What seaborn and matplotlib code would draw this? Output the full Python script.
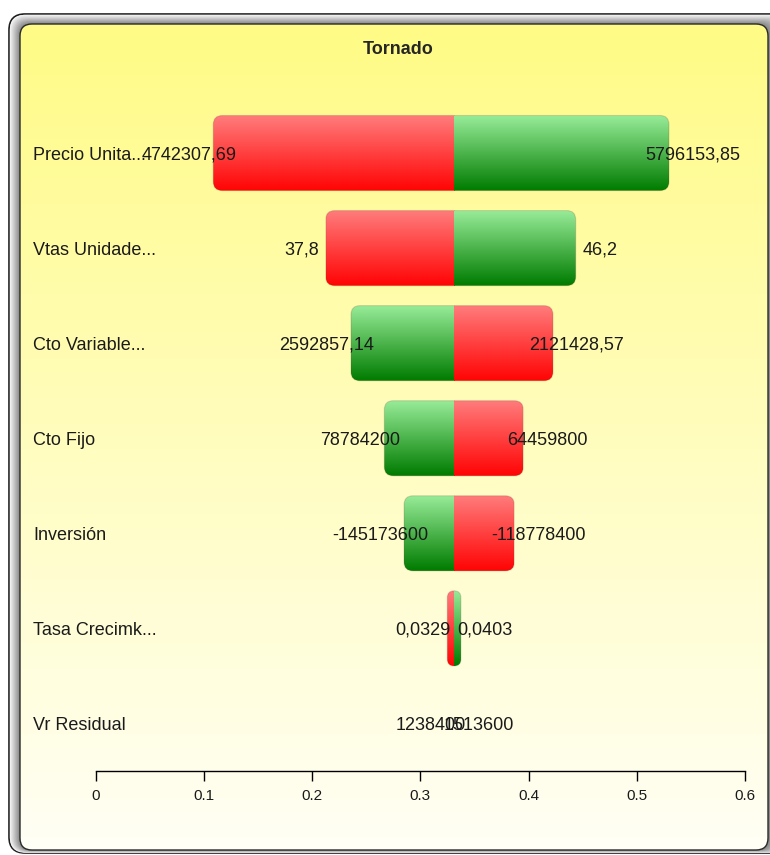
import numpy as np
import pandas as pd
import seaborn as sns
import matplotlib.pyplot as plt
from matplotlib.patches import FancyBboxPatch

# Tornado data
categories = ["Precio Unita...", "Vtas Unidade...", "Cto Variable...", "Cto Fijo",
              "Inversión", "Tasa Crecimk...", "Vr Residual"]
base_value = 0.3315
low_ends = [0.1088, 0.2127, 0.2360, 0.2668, 0.2850, 0.3250, 0.3315]
high_ends = [0.5298, 0.4436, 0.4226, 0.3952, 0.3869, 0.3376, 0.3315]
low_labels = ["4742307,69", "37,8", "2592857,14", "78784200", "-145173600", "0,0329", "1238400"]
high_labels = ["5796153,85", "46,2", "2121428,57", "64459800", "-118778400", "0,0403", "1513600"]
low_colors = ["red", "red", "green", "green", "green", "red", "red"]
high_colors = ["green", "green", "red", "red", "red", "green", "green"]
xticks = [0, 0.1, 0.2, 0.3, 0.4, 0.5, 0.6]
xtick_labels = ["0", "0.1", "0.2", "0.3", "0.4", "0.5", "0.6"]

sns.set_theme(style="white")
plt.rcParams['font.family'] = ['Liberation Sans', 'DejaVu Sans']
narrow = ['Liberation Sans Narrow', 'Liberation Sans', 'DejaVu Sans']

W, H = 770, 855
fig = plt.figure(figsize=(W / 100, H / 100), dpi=100)


def rbox(x0, y0, x1, y1, r, **kw):
    return FancyBboxPatch((x0, y0), x1 - x0, y1 - y0,
                          boxstyle=f"round,pad=0,rounding_size={r}", **kw)


def vgrad(top, bottom, n=64):
    t = np.linspace(0, 1, n)[:, None, None]
    return (np.array(top)[None, None, :] * (1 - t) + np.array(bottom)[None, None, :] * t) / 255.0


# frame + yellow panel drawn in pixel coordinates
bg = fig.add_axes([0, 0, 1, 1], zorder=0)
bg.axis('off')
outer = np.array([9, 14, 790, 853])
inner = np.array([20, 24, 768, 850])
bg.add_patch(rbox(*outer, 16, fc='#f2f2f2', ec='#1e1e1e', lw=1.2))
for k, g in zip(np.linspace(0.08, 1.0, 12), np.linspace(0.95, 0.50, 12)):
    b = outer + k * (inner - outer)
    bg.add_patch(rbox(*b, 16 - 4 * k, fc=str(g), ec='none'))
panel = rbox(*inner, 12, fc='none', ec='#2a2a2a', lw=1.0, zorder=3)
bg.add_patch(panel)
im = bg.imshow(vgrad((255, 251, 134), (255, 255, 245)), extent=(20, 768, 850, 24),
               aspect='auto', origin='upper', zorder=2)
im.set_clip_path(panel)
bg.set_xlim(0, W)
bg.set_ylim(H, 0)

fig.text(398 / W, 1 - 49 / H, "Tornado", ha='center', va='center',
         fontsize=13, fontweight='bold', family=narrow)

# main axes
ax = fig.add_axes([95.5 / W, (H - 771) / H, (745 - 95.5) / W, (771 - 105.5) / H], zorder=1)
ax.patch.set_alpha(0)

df = pd.DataFrame({
    'factor': categories,
    'low': np.array(low_ends) - base_value,
    'high': np.array(high_ends) - base_value,
})
sns.barplot(data=df, x='low', y='factor', left=base_value, width=0.79,
            errorbar=None, color='red', ax=ax)
sns.barplot(data=df, x='high', y='factor', left=base_value, width=0.79,
            errorbar=None, color='green', ax=ax)

gradients = {
    'red': vgrad((255, 124, 124), (255, 4, 4)),
    'green': vgrad((152, 236, 152), (0, 124, 0)),
}
pix_x = 0.6 / 649.5
pix_y = 7.0 / 665.5
n = len(categories)
for i in range(n):
    lo_p, hi_p = ax.patches[i], ax.patches[i + n]
    lo_p.set_visible(False)
    hi_p.set_visible(False)
    y0, h = lo_p.get_y(), lo_p.get_height()
    x_lo = lo_p.get_x() + lo_p.get_width()
    x_hi = hi_p.get_x() + hi_p.get_width()
    span = x_hi - x_lo
    if span > 0:
        r = min(9 * pix_x, span / 2)
        outline = FancyBboxPatch((x_lo, y0), span, h,
                                 boxstyle=f"round,pad=0,rounding_size={r}",
                                 mutation_aspect=pix_y / pix_x,
                                 fc='none', ec=(0.4, 0.2, 0.2, 0.18), lw=0.8, zorder=3)
        ax.add_patch(outline)
        for x0, x1, c in ((x_lo, base_value, low_colors[i]), (base_value, x_hi, high_colors[i])):
            gim = ax.imshow(gradients[c], extent=(x0, x1, y0 + h, y0),
                            aspect='auto', origin='upper', zorder=2)
            gim.set_clip_path(outline)

    ax.annotate(low_labels[i], (low_ends[i], i), xytext=(-17.3, 0), textcoords='offset points',
                ha='center', va='center_baseline', fontsize=13, color='#1a1a1a', zorder=4)
    ax.annotate(high_labels[i], (high_ends[i], i), xytext=(17.3, 0), textcoords='offset points',
                ha='center', va='center_baseline', fontsize=13, color='#1a1a1a', zorder=4)

ax.set_xlim(0, 0.6)
ax.set_ylim(n - 0.5, -0.5)
ax.set_xticks(xticks, xtick_labels)
ax.set_yticks(range(n))
ax.set_yticklabels(categories, ha='left', fontsize=13, color='#1a1a1a')
ax.tick_params(axis='y', length=0, pad=45)
ax.tick_params(axis='x', bottom=True, direction='out', length=7, width=1,
               color='black', labelsize=11, pad=6, labelcolor='#1a1a1a')
for lab in ax.get_xticklabels():
    lab.set_family(narrow)
ax.set_xlabel('')
ax.set_ylabel('')
sns.despine(ax=ax, left=True)
ax.spines['bottom'].set_color('black')
ax.spines['bottom'].set_linewidth(1)

fig.savefig('out.png', dpi=100)
